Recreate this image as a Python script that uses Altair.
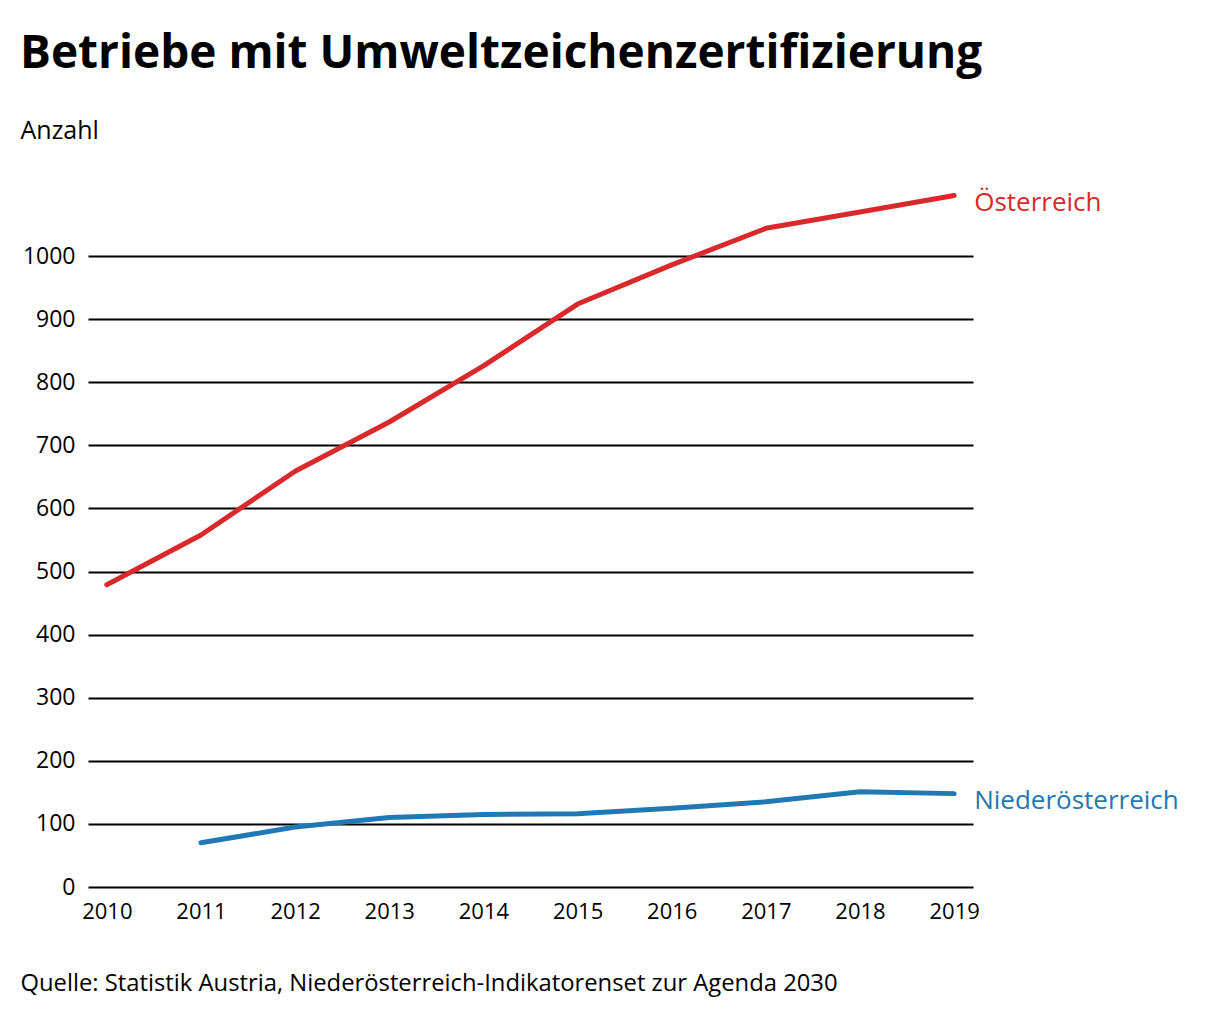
import altair as alt
import pandas as pd

years = [2010, 2011, 2012, 2013, 2014, 2015, 2016, 2017, 2018, 2019]
oesterreich = [479, 558, 659, 737, 826, 924, 986, 1044, 1070, 1096]
niederoesterreich = [None, 70, 95, 110, 115, 116, 125, 135, 151, 148]
series_names = ["Österreich", "Niederösterreich"]
series_colors = ["#d9292b", "#2178b5"]
y_ticks = [0, 100, 200, 300, 400, 500, 600, 700, 800, 900, 1000]

rows = []
for name, vals in zip(series_names, [oesterreich, niederoesterreich]):
    for y, v in zip(years, vals):
        if v is not None:
            rows.append({"Jahr": y, "Wert": v, "Serie": name})
df = pd.DataFrame(rows)
last = df[df["Jahr"] == years[-1]]

FONT = "Open Sans"

x = alt.X("Jahr:Q",
          scale=alt.Scale(domain=[2009.8, 2019.2], nice=False, zero=False),
          axis=alt.Axis(values=years, format="d", grid=False, ticks=False, domain=False,
                        labelFontSize=22, labelFont=FONT, labelColor="#000", labelPadding=14,
                        title="Quelle: Statistik Austria, Niederösterreich-Indikatorenset zur Agenda 2030",
                        titleFont=FONT, titleFontSize=23.8, titleFontWeight="normal", titleColor="#000",
                        titleAnchor="start", titleAlign="left", titleBaseline="alphabetic",
                        titleX=-68, titleY=103))
y = alt.Y("Wert:Q",
          scale=alt.Scale(domain=[0, 1100], nice=False),
          axis=alt.Axis(values=y_ticks, format="d", grid=True, gridColor="#000", gridWidth=2,
                        gridOpacity=1, ticks=False, domain=False, labelFontSize=23, labelFont=FONT,
                        labelColor="#000", labelPadding=13,
                        title="Anzahl", titleAngle=0, titleFont=FONT, titleFontSize=25,
                        titleFontWeight="normal", titleColor="#000", titleAlign="left",
                        titleBaseline="alphabetic", titleX=-68, titleY=-55))
color = alt.Color("Serie:N", scale=alt.Scale(domain=series_names, range=series_colors), legend=None)

lines = alt.Chart(df).mark_line(strokeWidth=5, strokeCap="round", strokeJoin="round").encode(
    x=x, y=y, color=color)

labels = alt.Chart(last).mark_text(align="left", baseline="middle", dx=20, dy=7, fontSize=26,
                                   font=FONT).encode(
    x="Jahr:Q", y="Wert:Q", text="Serie:N", color=color)

chart = (lines + labels).properties(
    width=885, height=694,
    title=alt.TitleParams("Betriebe mit Umweltzeichenzertifizierung", anchor="start",
                          font=FONT, fontSize=46, fontWeight="bold", color="#000",
                          offset=40),
    autosize=alt.AutoSizeParams(type="none"),
    padding={"left": 80, "top": 185, "right": 239, "bottom": 125},
).configure_view(stroke=None)

chart.save("out.html", embed_options={"renderer": "svg", "actions": False})
